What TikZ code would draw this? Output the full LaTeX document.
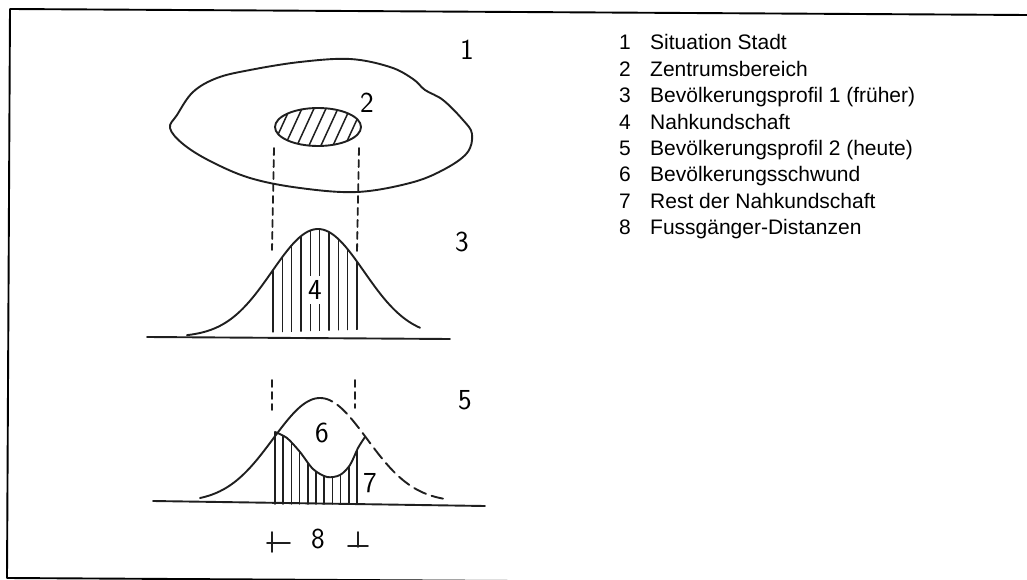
\documentclass[tikz,border=0pt]{standalone}
\usepackage{fontspec}
\newfontfamily\legfont{Liberation Sans}
\begin{document}
\begin{tikzpicture}[x=1pt,y=-1pt, line cap=round, line join=round,
  ink/.style={line width=1.9pt, black!88},
  dashv/.style={line width=1.8pt, black!88, dash pattern=on 7pt off 5pt},
  hatchline/.style={line width=1.5pt, black!88},
  hand/.style={font=\sffamily\fontsize{29}{31}\selectfont, inner sep=1pt},
  legnum/.style={font=\legfont\fontsize{21}{24}\selectfont, anchor=base, inner sep=0pt},
  legtxt/.style={font=\legfont\fontsize{21}{24}\selectfont, anchor=base west, inner sep=0pt}]
\useasboundingbox (0,0) rectangle (1027,580);
% frame
\draw[line width=1.9pt] (1027,15) -- (10,9) -- (7,578) -- (1027,584);

% city outline
\draw[ink] plot[smooth cycle, tension=0.6] coordinates {
 (170,128) (177,115) (193,92) (217,78) (250,70) (300,62) (350,59) (390,67)
 (413,79) (425,90) (443,100) (463,120) (472,134) (467,153) (443,170)
 (410,183) (357,192) (300,188) (250,178) (210,161) (183,144)};

% centre area (hatched)
\begin{scope}
  \clip (318,127) ellipse [x radius=43, y radius=19];
  \foreach \i in {0,...,10} \draw[hatchline] ({258+12*\i},152) -- ++(23,-50);
\end{scope}
\draw[ink] (318,127) ellipse [x radius=43, y radius=19];

% dashed verticals
\draw[dashv] (274,148) -- (272,250);
\draw[dashv] (359,148) -- (357,252);
\draw[dashv] (272,380) -- (272,410);
\draw[dashv] (355,380) -- (355,408);

% profile 1
\begin{scope}
  \clip plot[domain=187:420, samples=80] (\x,{337-108*exp(-0.5*((\x-318)/46)^2)}) -- cycle;
  \foreach \i in {0,...,9} \draw[hatchline] ({273+9.33*\i},220) -- ({273+9.33*\i},338);
\end{scope}
\draw[ink] plot[domain=187:420, samples=80, smooth] (\x,{337-108*exp(-0.5*((\x-318)/46)^2)});
\draw[ink] (147,337) -- (450,339);
\node[hand, fill=white, inner sep=4pt] (l4) at (315,290) {4};

% profile 2
\begin{scope}
  \clip (268,428) -- (275,432) -- plot[smooth] coordinates {(275,432) (287,438) (300,452) (313,469) (327,477) (340,475) (350,465) (358,448) (365,437)} -- (372,432) -- (372,510) -- (268,510) -- cycle;
  \foreach \i in {0,...,10} \draw[hatchline] ({275+8.2*\i},425) -- ({275+8.2*\i},504);
\end{scope}
\draw[ink] plot[domain=200:320, samples=50, smooth] (\x,{502-104*exp(-0.5*((\x-320)/47)^2)});
\draw[ink, dash pattern=on 13pt off 6pt] plot[domain=320:443, samples=50, smooth] (\x,{502-104*exp(-0.5*((\x-320)/47)^2)});
\draw[ink] plot[smooth] coordinates {(275,432) (287,438) (300,452) (313,469) (327,477) (340,475) (350,465) (358,448) (365,437)};
\draw[ink] (153,501) -- (485,506);

% distance marks
\draw[ink] (272,532) -- (272,552);
\draw[ink] (267,543) -- (290,543);
\draw[ink] (358,532) -- (358,547);
\draw[ink] (348,546) -- (368,546);

% hand labels
\node[hand] (l1) at (467,50) {1};
\node[hand] (l2) at (367,103) {2};
\node[hand] (l3) at (462,242) {3};
\node[hand] (l5) at (465,400) {5};
\node[hand] (l6) at (322,433) {6};
\node[hand] (l7) at (370,483) {7};
\node[hand] (l8) at (318,539) {8};

% legend
\foreach \n/\t [count=\k from 0] in {1/Situation Stadt, 2/Zentrumsbereich,
  3/Bevölkerungsprofil 1 (früher), 4/Nahkundschaft, 5/Bevölkerungsprofil 2 (heute),
  6/Bevölkerungsschwund, 7/Rest der Nahkundschaft, 8/Fussgänger-Distanzen} {
  \node[legnum] (num\n) at (625,{50+26.4*\k}) {\n};
  \node[legtxt] (txt\n) at (650,{50+26.4*\k}) {\t};
}
\end{tikzpicture}
\end{document}
